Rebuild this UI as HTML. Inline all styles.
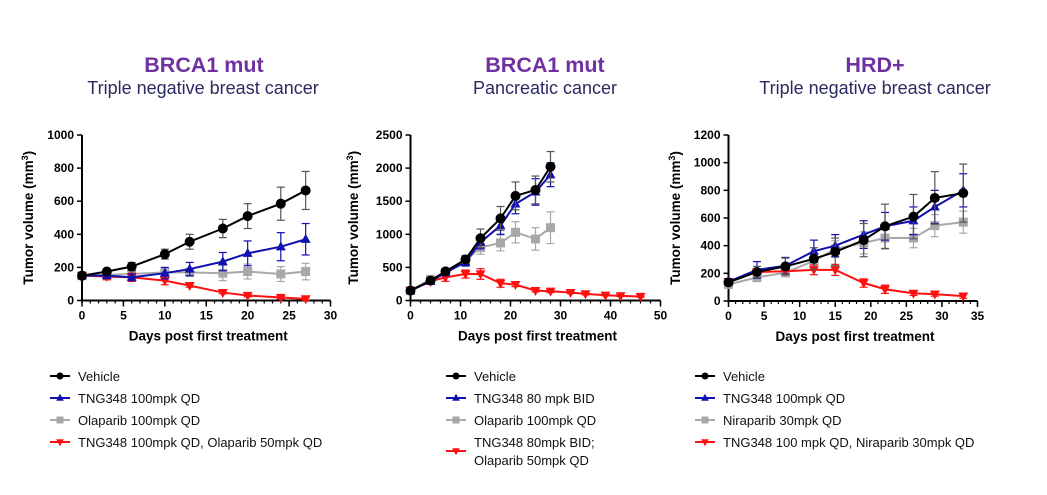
<!DOCTYPE html>
<html><head><meta charset="utf-8"><style>
body{margin:0;background:#fff;}
svg{display:block;font-family:"Liberation Sans",Arial,sans-serif;}
</style></head><body>
<svg id="s" width="1047" height="495" viewBox="0 0 1047 495">
<text x="204" y="72" text-anchor="middle" font-size="21.5" font-weight="bold" fill="#7030a0">BRCA1 mut</text>
<text x="203" y="94" text-anchor="middle" font-size="18" fill="#2b2a63">Triple negative breast cancer</text>
<text x="545" y="72" text-anchor="middle" font-size="21.5" font-weight="bold" fill="#7030a0">BRCA1 mut</text>
<text x="545" y="94" text-anchor="middle" font-size="18" fill="#2b2a63">Pancreatic cancer</text>
<text x="875" y="72" text-anchor="middle" font-size="21.5" font-weight="bold" fill="#7030a0">HRD+</text>
<text x="875" y="94" text-anchor="middle" font-size="18" fill="#2b2a63">Triple negative breast cancer</text>
</svg>
<script>
// ---- Chart 1 data ----
const c1Days=[0,3,6,10,13,17,20,24,27];
const c1Vehicle=[150,175,205,280,355,435,510,585,665];
const c1VehicleErr=[10,15,25,30,45,55,75,100,115];
const c1Tng=[150,150,140,165,190,235,285,325,370];
const c1TngErr=[10,15,20,35,40,55,75,85,95];
const c1Olap=[150,155,160,170,170,165,175,160,175];
const c1OlapErr=[10,15,20,20,25,45,45,45,50];
const c1Combo=[150,145,140,120,90,48,30,18,10];
const c1ComboErr=[10,20,25,25,10,8,8,8,8];
const c1XTicks=[0,5,10,15,20,25,30];
const c1YTicks=[0,200,400,600,800,1000];
const c1Legend=["Vehicle","TNG348 100mpk QD","Olaparib 100mpk QD","TNG348 100mpk QD, Olaparib 50mpk QD"];
// ---- Chart 2 data ----
const c2Days=[0,4,7,11,14,18,21,25,28];
const c2Vehicle=[150,300,440,620,940,1240,1580,1670,2020];
const c2VehicleErr=[30,40,40,60,140,180,210,210,230];
const c2Tng=[150,290,420,580,880,1130,1460,1640,1900];
const c2TngErr=[30,40,40,60,100,130,150,200,180];
const c2Olap=[150,320,420,600,800,870,1030,930,1100];
const c2OlapErr=[30,40,40,60,100,120,160,170,240];
const c2ComboDays=[0,4,7,11,14,18,21,25,28,32,35,39,42,46];
const c2Combo=[150,290,350,400,400,260,240,150,140,120,100,80,70,60];
const c2ComboErr=[30,30,60,60,80,60,30,20,20,15,15,10,10,10];
const c2XTicks=[0,10,20,30,40,50];
const c2YTicks=[0,500,1000,1500,2000,2500];
const c2Legend=["Vehicle","TNG348 80 mpk BID","Olaparib 100mpk QD","TNG348 80mpk BID;|Olaparib 50mpk QD"];
// ---- Chart 3 data ----
const c3Days=[0,4,8,12,15,19,22,26,29,33];
const c3Vehicle=[135,210,250,305,355,440,540,610,745,780];
const c3VehicleErr=[20,40,60,80,100,120,160,160,190,210];
const c3Tng=[140,225,255,360,400,480,540,580,680,800];
const c3TngErr=[20,60,60,80,80,100,100,100,120,120];
const c3Nira=[120,170,205,290,375,420,455,455,545,570];
const c3NiraErr=[20,30,30,40,60,80,80,70,80,80];
const c3Combo=[140,210,215,225,225,130,85,55,50,35];
const c3ComboErr=[20,20,20,35,40,30,30,15,15,15];
const c3XTicks=[0,5,10,15,20,25,30,35];
const c3YTicks=[0,200,400,600,800,1000,1200];
const c3Legend=["Vehicle","TNG348 100mpk QD","Niraparib 30mpk QD","TNG348 100 mpk QD, Niraparib 30mpk QD"];

const NS="http://www.w3.org/2000/svg";
const svg=document.getElementById('s');
function mk(tag,attrs,parent,text){const e=document.createElementNS(NS,tag);for(const k in attrs)e.setAttribute(k,attrs[k]);if(text!==undefined)e.textContent=text;(parent||svg).appendChild(e);return e;}
const COLORS=["#000000","#1010b0","#a8a8a8","#ff1010"];
const SHAPES=["circle","tri","square","tridown"];
function marker(g,shape,x,y,c,s){
  if(shape==="circle")return mk('circle',{cx:x,cy:y,r:s,fill:c},g);
  if(shape==="square")return mk('rect',{x:x-s,y:y-s,width:2*s,height:2*s,fill:c},g);
  if(shape==="tri")return mk('polygon',{points:`${x},${y-s*1.2} ${x-s*1.1},${y+s*0.8} ${x+s*1.1},${y+s*0.8}`,fill:c},g);
  return mk('polygon',{points:`${x},${y+s*1.2} ${x-s*1.1},${y-s*0.8} ${x+s*1.1},${y-s*0.8}`,fill:c},g);
}
function chart(id,box,xMax,yMax,xTicks,yTicks,minorStep,series,legend,lx,ylabX){
  const g=mk('g',{});
  
  
  const X=v=>box.x0+(box.x1-box.x0)*v/xMax;
  const Y=v=>box.y0-(box.y0-box.y1)*v/yMax;
  const ax=mk('path',{d:`M${box.x0},${box.y1} V${box.y0} H${box.x1}`,stroke:"#000","stroke-width":2,fill:"none"},g);
  
  
  yTicks.forEach(t=>{mk('line',{x1:box.x0-5,x2:box.x0,y1:Y(t),y2:Y(t),stroke:"#000","stroke-width":1.5},g);
    const tl=mk('text',{x:box.x0-8,y:Y(t)+4,"text-anchor":"end","font-size":12,"font-weight":"bold"},g,t);
    
    });
  for(let v=0;v<=xMax+1e-6;v+=minorStep){mk('line',{x1:X(v),x2:X(v),y1:box.y0,y2:box.y0+3,stroke:"#000","stroke-width":1.2},g);}
  xTicks.forEach(t=>{mk('line',{x1:X(t),x2:X(t),y1:box.y0,y2:box.y0+6,stroke:"#000","stroke-width":1.5},g);
    const tl=mk('text',{x:X(t),y:box.y0+19,"text-anchor":"middle","font-size":12,"font-weight":"bold"},g,t);
    
    });
  const xl=mk('text',{x:(box.x0+box.x1)/2+2,y:box.y0+40,"text-anchor":"middle","font-size":13.5,"font-weight":"bold"},g,"Days post first treatment");
  
  
  const ym=(box.y0+box.y1)/2;
  const yl=mk('text',{x:ylabX,y:ym,"text-anchor":"middle","font-size":13.5,"font-weight":"bold",transform:`rotate(-90 ${ylabX} ${ym})`},g);
  
  
  mk('tspan',{},yl,"Tumor volume (mm");
  mk('tspan',{dy:-5,"font-size":9},yl,"3");
  mk('tspan',{dy:5},yl,")");
  const order=[2,3,1,0];
  order.forEach(i=>{
    const s=series[i];const c=COLORS[i];
    const sg=mk('g',{},g);
    
    
    const ec=i===0?"#555":c;
    s.days.forEach((d,k)=>{
      const x=X(d),yt=Y(s.v[k]+s.e[k]),yb=Y(Math.max(0,s.v[k]-s.e[k]));
      mk('line',{x1:x,x2:x,y1:yt,y2:yb,stroke:ec,"stroke-width":1.2},sg);
      mk('line',{x1:x-4,x2:x+4,y1:yt,y2:yt,stroke:ec,"stroke-width":1.2},sg);
      mk('line',{x1:x-4,x2:x+4,y1:yb,y2:yb,stroke:ec,"stroke-width":1.2},sg);
    });
    mk('polyline',{points:s.days.map((d,k)=>X(d)+","+Y(s.v[k])).join(" "),fill:"none",stroke:c,"stroke-width":2},sg);
    s.days.forEach((d,k)=>{const m=marker(sg,SHAPES[i],X(d),Y(s.v[k]),c,i===0?5:4.5);
      
      });
  });
  const rows=[376,398,420,442];
  legend.forEach((lab,i)=>{
    const lg=mk('g',{},g);
    
    
    const parts=lab.split('|');
    const my=parts.length>1?rows[i]+9:rows[i];
    mk('line',{x1:lx,x2:lx+20,y1:my,y2:my,stroke:COLORS[i],"stroke-width":2},lg);
    marker(lg,SHAPES[i],lx+10,my,COLORS[i],3.5);
    parts.forEach((p,j)=>mk('text',{x:lx+28,y:rows[i]+5+j*18,"font-size":13,fill:"#111"},lg,p));
  });
}
chart('chart-brca1-tnbc',{x0:82,x1:330.5,y0:300.5,y1:135},30,1000,c1XTicks,c1YTicks,1,
  [{days:c1Days,v:c1Vehicle,e:c1VehicleErr},{days:c1Days,v:c1Tng,e:c1TngErr},{days:c1Days,v:c1Olap,e:c1OlapErr},{days:c1Days,v:c1Combo,e:c1ComboErr}],
  c1Legend,50,33);
chart('chart-brca1-pancreatic',{x0:410.5,x1:660.5,y0:300.5,y1:135},50,2500,c2XTicks,c2YTicks,2,
  [{days:c2Days,v:c2Vehicle,e:c2VehicleErr},{days:c2Days,v:c2Tng,e:c2TngErr},{days:c2Days,v:c2Olap,e:c2OlapErr},{days:c2ComboDays,v:c2Combo,e:c2ComboErr}],
  c2Legend,446,358);
chart('chart-hrd-tnbc',{x0:728.5,x1:977.5,y0:301,y1:135},35,1200,c3XTicks,c3YTicks,1,
  [{days:c3Days,v:c3Vehicle,e:c3VehicleErr},{days:c3Days,v:c3Tng,e:c3TngErr},{days:c3Days,v:c3Nira,e:c3NiraErr},{days:c3Days,v:c3Combo,e:c3ComboErr}],
  c3Legend,695,680);
</script>
</body></html>
